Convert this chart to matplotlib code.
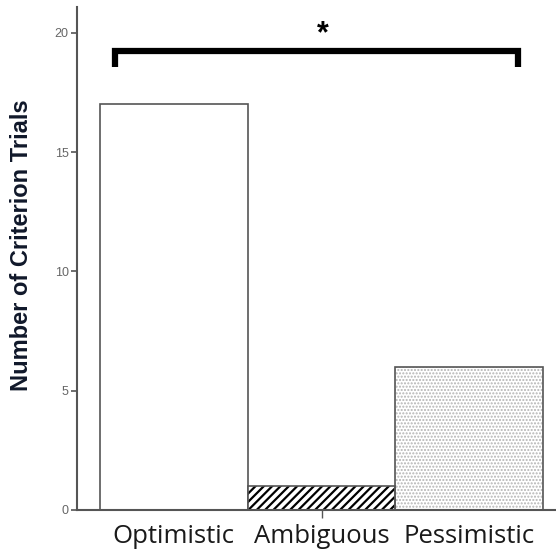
import matplotlib
matplotlib.use('Agg')
import matplotlib.pyplot as plt
import numpy as np

# criterion trials per bias category
categories = ['Optimistic', 'Ambiguous', 'Pessimistic']
trials = [17, 1, 6]
yticks = [0, 5, 10, 15, 20]

fig = plt.figure(figsize=(5.56, 5.55), dpi=100)
ax = fig.add_axes([77 / 556, 45 / 555, 479 / 556, 503 / 555])

x = np.arange(len(categories))
edge = '#555555'

# optimistic: plain white
ax.bar(x[0], trials[0], width=1.0, color='white', edgecolor=edge, linewidth=1.2, zorder=2)
# ambiguous: black diagonal stripes
plt.rcParams['hatch.linewidth'] = 1.6
ax.bar(x[1], trials[1], width=1.0, color='white', edgecolor='black', hatch='////', linewidth=0, zorder=2)
ax.bar(x[1], trials[1], width=1.0, color='none', edgecolor=edge, linewidth=1.2, zorder=3)
# pessimistic: light grey dots
plt.rcParams['hatch.linewidth'] = 1.0
ax.bar(x[2], trials[2], width=1.0, color='white', edgecolor='#b4b4b4', hatch='.....', linewidth=0, zorder=2)
ax.bar(x[2], trials[2], width=1.0, color='none', edgecolor=edge, linewidth=1.2, zorder=3)

ax.set_xlim(-0.656, 2.588)
ax.set_ylim(0, 21.08)

ax.set_yticks(yticks)
ax.set_yticklabels([str(t) for t in yticks], fontsize=9, color='#666666', family='Liberation Sans')
ax.tick_params(axis='y', direction='out', length=4, width=1.2, color=edge, pad=2)

ax.set_xticks(x)
ax.set_xticklabels(categories, fontsize=18.5, family='Open Sans', color='#1a1a1a')
ax.tick_params(axis='x', direction='out', length=6, width=1.0, color=edge, pad=4)
for i, t in enumerate(ax.xaxis.get_major_ticks()):
    if i != 1:
        t.tick1line.set_visible(False)

for s in ['top', 'right']:
    ax.spines[s].set_visible(False)
for s in ['left', 'bottom']:
    ax.spines[s].set_color(edge)
    ax.spines[s].set_linewidth(1.5)

fig.text(22 / 556, 1 - 245 / 555, 'Number of Criterion Trials', rotation=90,
         ha='center', va='center', fontsize=17, fontweight='bold',
         family='Liberation Sans', color='#10182a')

# significance bracket
bx0, bx1 = -0.4, 2.33
ytop, yleg = 19.24, 18.57
ax.plot([bx0, bx0, bx1, bx1], [yleg, ytop, ytop, yleg], color='black',
        linewidth=4.5, solid_joinstyle='miter', solid_capstyle='butt', zorder=4, clip_on=False)
ax.text(1.01, 19.95, '*', ha='center', va='center', fontsize=22, fontweight='bold',
        family='Liberation Sans', color='black')

fig.savefig('out.png', dpi=100)
